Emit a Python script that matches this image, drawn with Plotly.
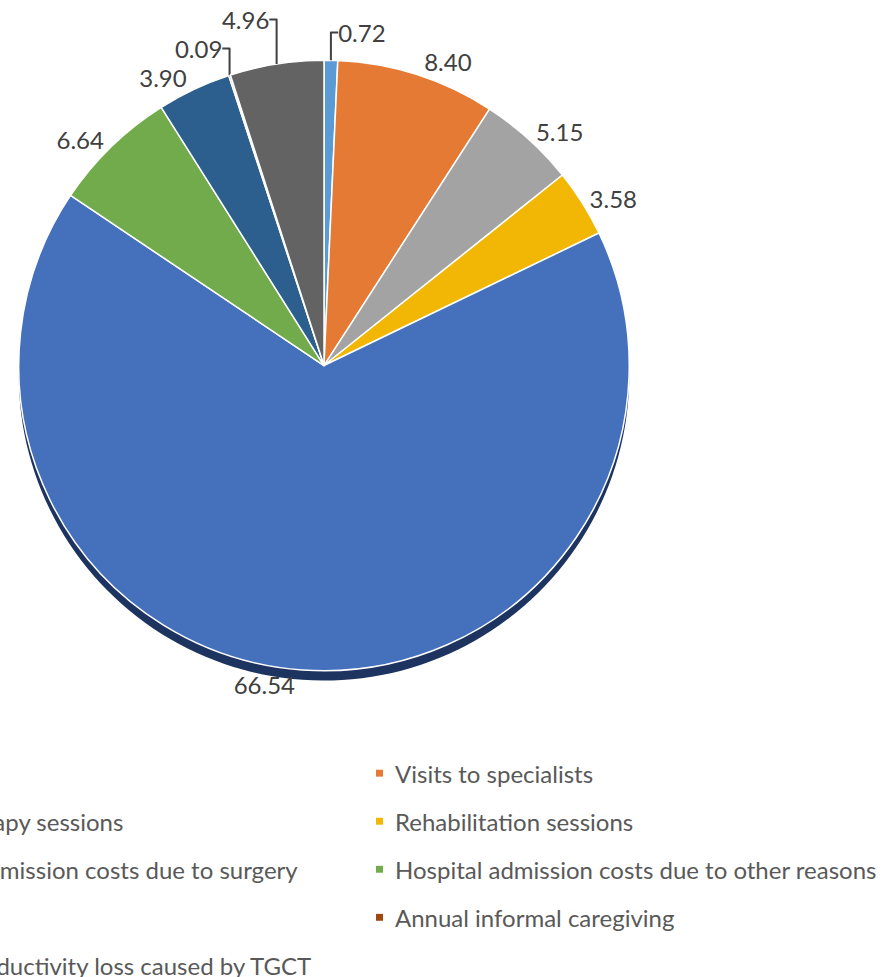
import plotly.graph_objects as go

# ---- data ----
categories = [
    "GP visits",
    "Visits to specialists",
    "Physiotherapy sessions",
    "Rehabilitation sessions",
    "Hospital admission costs due to surgery",
    "Hospital admission costs due to other reasons",
    "Drugs",
    "Annual informal caregiving",
    "Annual productivity loss caused by TGCT",
]
values = [0.72, 8.40, 5.15, 3.58, 66.54, 6.64, 3.90, 0.09, 4.96]

# ---- styles ----
colors = ["#5B9BD5", "#E47A33", "#A3A3A3", "#F2B705", "#4470BC",
          "#72AB4C", "#2C5F8E", "#9E480E", "#636363"]
shadow_colors = ["#1E3460", "#7A3D10", "#555555", "#7A5C00", "#1E3460",
                 "#3A5A25", "#142F47", "#4F2407", "#333333"]

W, H = 882, 977
FONT = "Lato"

def px(x):   # pixel x -> paper
    return x / W

def py(y):   # pixel y (from top) -> paper
    return 1 - y / H

cx, cy, r = 324, 356, 310
shadow_dy = 10

def dom(cx, cy, r):
    return dict(x=[px(cx - r), px(cx + r)], y=[py(cy + r), py(cy - r)])

fig = go.Figure()

# 3D-like rim (shadow pie drawn behind)
fig.add_trace(go.Pie(
    labels=categories, values=values, sort=False, direction="clockwise",
    rotation=0, domain=dom(cx, cy + shadow_dy, r),
    marker=dict(colors=shadow_colors, line=dict(width=0)),
    textinfo="none", hoverinfo="skip", showlegend=False,
))

fig.add_trace(go.Pie(
    labels=categories, values=values, sort=False, direction="clockwise",
    rotation=0, domain=dom(cx, cy, r),
    marker=dict(colors=colors, line=dict(color="white", width=1.5)),
    texttemplate="%{value:.2f}", textposition="outside",
    textfont=dict(family=FONT, size=24, color="#404040"),
    showlegend=False,
))

# ---- legend (two columns, as in the source) ----
col_x = [-121, 393]
row_y0 = 770
row_h = 48.8
annotations = []
shapes = []
for i, name in enumerate(categories):
    row, col = divmod(i, 2)
    tx = col_x[col]
    ty = row_y0 + row * row_h
    annotations.append(dict(
        x=px(tx), y=py(ty), xref="paper", yref="paper",
        xanchor="left", yanchor="middle", showarrow=False,
        text=name, font=dict(family=FONT, size=24, color="#595959"),
    ))
    shapes.append(dict(
        type="rect", xref="paper", yref="paper",
        x0=px(tx - 17), x1=px(tx - 10),
        y0=py(ty + 3.5), y1=py(ty - 3.5),
        fillcolor=colors[i], line=dict(width=0),
    ))

fig.update_layout(
    width=W, height=H,
    margin=dict(l=0, r=0, t=0, b=0),
    paper_bgcolor="white", plot_bgcolor="white",
    annotations=annotations, shapes=shapes,
    showlegend=False,
)

fig.write_html("out.html",
               config={"displayModeBar": False},
               post_script="document.body.style.margin='0';document.body.style.overflow='hidden';")
